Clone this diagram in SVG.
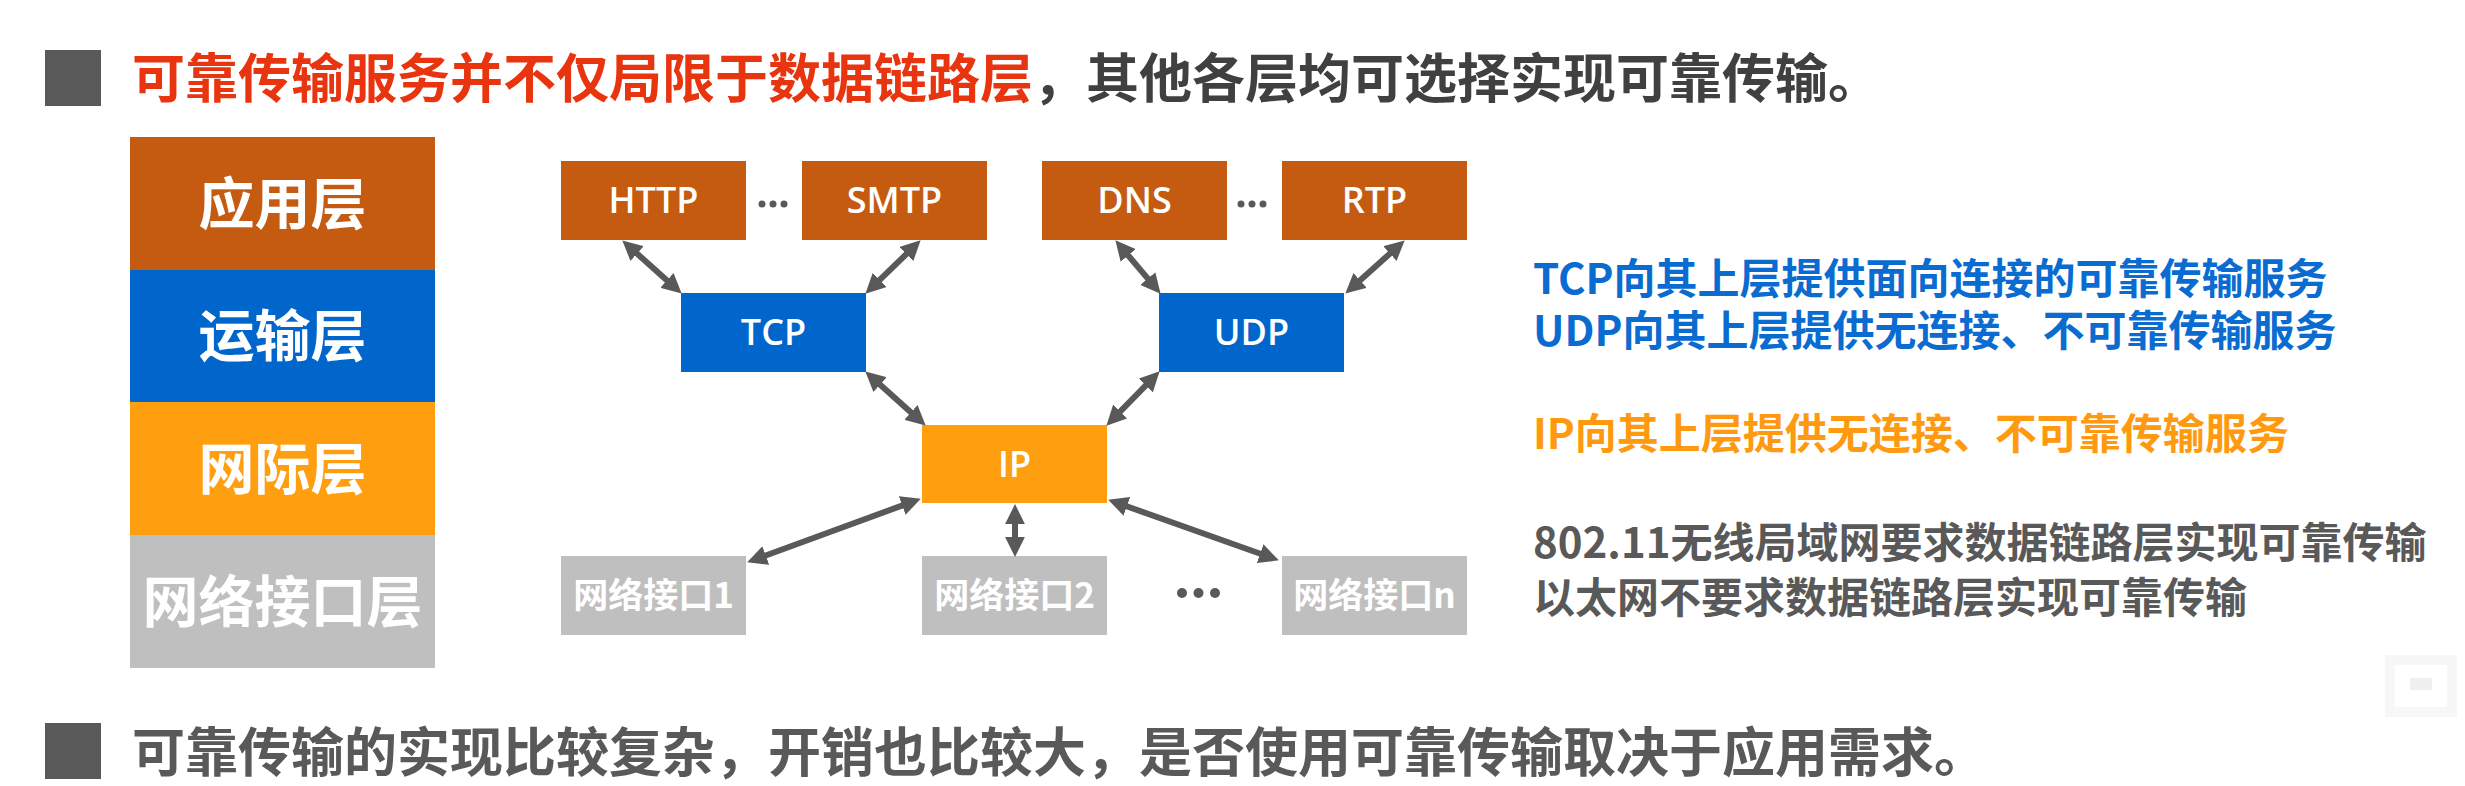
<svg xmlns="http://www.w3.org/2000/svg" width="2465" height="786" viewBox="0 0 2465 786">
<defs>
<style>
.cjk{font-family:"Noto Sans CJK SC","Noto Sans",sans-serif;font-weight:700}
.lat{font-family:"Open Sans","Noto Sans",sans-serif;font-weight:600}
.app{fill:#C55A11}
.tr{fill:#0066CC}
.net{fill:#FF9F10}
.ifc{fill:#BFBFBF}
.wt{fill:#FFFFFF}
.conn line{stroke:#595959;stroke-width:6;marker-start:url(#ah);marker-end:url(#ah)}
</style>
<marker id="ah" viewBox="0 0 10 10" refX="5" refY="5" markerWidth="3.3" markerHeight="3.3" orient="auto-start-reverse">
<path d="M0,0 L10,5 L0,10 z" fill="#595959"/>
</marker>
</defs>
<rect x="0" y="0" width="2465" height="786" fill="#FFFFFF"/>

<g id="header">
<rect x="45" y="50" width="56" height="56" fill="#595959"/>
<text class="cjk" x="132" y="98" font-size="53"><tspan fill="#E8340F">可靠传输服务并不仅局限于数据链路层</tspan><tspan fill="#404040">，其他各层均可选择实现可靠传输。</tspan></text>
</g>

<g id="layer-stack">
<g id="layer-app"><rect x="130" y="137" width="305" height="133" class="app"/><text class="cjk wt" x="282.5" y="224" font-size="56" text-anchor="middle">应用层</text></g>
<g id="layer-transport"><rect x="130" y="270" width="305" height="132" class="tr"/><text class="cjk wt" x="282.5" y="356" font-size="56" text-anchor="middle">运输层</text></g>
<g id="layer-internet"><rect x="130" y="402" width="305" height="133" class="net"/><text class="cjk wt" x="282.5" y="489" font-size="56" text-anchor="middle">网际层</text></g>
<g id="layer-link"><rect x="130" y="535" width="305" height="133" class="ifc"/><text class="cjk wt" x="282.5" y="622" font-size="56" text-anchor="middle">网络接口层</text></g>
</g>

<g id="node-http"><rect x="561" y="161" width="185" height="79" class="app"/><text class="lat wt" x="653.5" y="213" font-size="36" text-anchor="middle">HTTP</text></g>
<g id="node-smtp"><rect x="802" y="161" width="185" height="79" class="app"/><text class="lat wt" x="894.5" y="213" font-size="36" text-anchor="middle">SMTP</text></g>
<g id="node-dns"><rect x="1042" y="161" width="185" height="79" class="app"/><text class="lat wt" x="1134.5" y="213" font-size="36" text-anchor="middle">DNS</text></g>
<g id="node-rtp"><rect x="1282" y="161" width="185" height="79" class="app"/><text class="lat wt" x="1374.5" y="213" font-size="36" text-anchor="middle">RTP</text></g>
<g id="node-tcp"><rect x="681" y="293" width="185" height="79" class="tr"/><text class="lat wt" x="773.5" y="345" font-size="36" text-anchor="middle">TCP</text></g>
<g id="node-udp"><rect x="1159" y="293" width="185" height="79" class="tr"/><text class="lat wt" x="1251.5" y="345" font-size="36" text-anchor="middle">UDP</text></g>
<g id="node-ip"><rect x="922" y="425" width="185" height="78" class="net"/><text class="lat wt" x="1014.5" y="477" font-size="36" text-anchor="middle">IP</text></g>
<g id="node-if1"><rect x="561" y="556" width="185" height="79" class="ifc"/><text class="cjk wt" x="653.5" y="608" font-size="35" text-anchor="middle">网络接口1</text></g>
<g id="node-if2"><rect x="922" y="556" width="185" height="79" class="ifc"/><text class="cjk wt" x="1014.5" y="608" font-size="35" text-anchor="middle">网络接口2</text></g>
<g id="node-ifn"><rect x="1282" y="556" width="185" height="79" class="ifc"/><text class="cjk wt" x="1374.5" y="608" font-size="35" text-anchor="middle">网络接口n</text></g>

<g id="ellipses" fill="#595959">
<circle cx="762" cy="204" r="3.5"/><circle cx="773" cy="204" r="3.5"/><circle cx="784" cy="204" r="3.5"/>
<circle cx="1241" cy="204" r="3.5"/><circle cx="1252" cy="204" r="3.5"/><circle cx="1263" cy="204" r="3.5"/>
<circle cx="1182" cy="593" r="5"/><circle cx="1198.5" cy="593" r="5"/><circle cx="1215" cy="593" r="5"/>
</g>

<g id="connectors" class="conn">
<line x1="629.7" y1="247.0" x2="674.3" y2="287.0"/>
<line x1="913.5" y1="247.2" x2="872.5" y2="286.8"/>
<line x1="1121.8" y1="247.9" x2="1154.2" y2="286.1"/>
<line x1="1397.3" y1="247.0" x2="1352.7" y2="287.0"/>
<line x1="872.7" y1="378.0" x2="918.3" y2="419.0"/>
<line x1="1152.7" y1="378.4" x2="1113.3" y2="418.6"/>
<line x1="911.5" y1="502.1" x2="756.5" y2="558.9"/>
<line x1="1015" y1="514" x2="1015" y2="547"/>
<line x1="1117.5" y1="503.0" x2="1269.5" y2="557.0"/>
</g>

<g id="notes" class="cjk" font-size="42">
<text x="1533" y="294" fill="#0A6CD0">TCP向其上层提供面向连接的可靠传输服务</text>
<text x="1533" y="346" fill="#0A6CD0">UDP向其上层提供无连接、不可靠传输服务</text>
<text x="1533" y="449" fill="#FF9A10">IP向其上层提供无连接、不可靠传输服务</text>
<text x="1533" y="558" fill="#595959">802.11无线局域网要求数据链路层实现可靠传输</text>
<text x="1533" y="613" fill="#595959">以太网不要求数据链路层实现可靠传输</text>
</g>

<g id="footer">
<rect x="45" y="723" width="56" height="56" fill="#595959"/>
<text class="cjk" x="132" y="772" font-size="53" fill="#595959">可靠传输的实现比较复杂，开销也比较大，是否使用可靠传输取决于应用需求。</text>
</g>

<g id="corner-icon" fill="none">
<rect x="2390" y="660" width="62" height="52" stroke="#F7F7F7" stroke-width="10"/>
<rect x="2410" y="678" width="22" height="12" fill="#F0F0F0"/>
</g>
</svg>
